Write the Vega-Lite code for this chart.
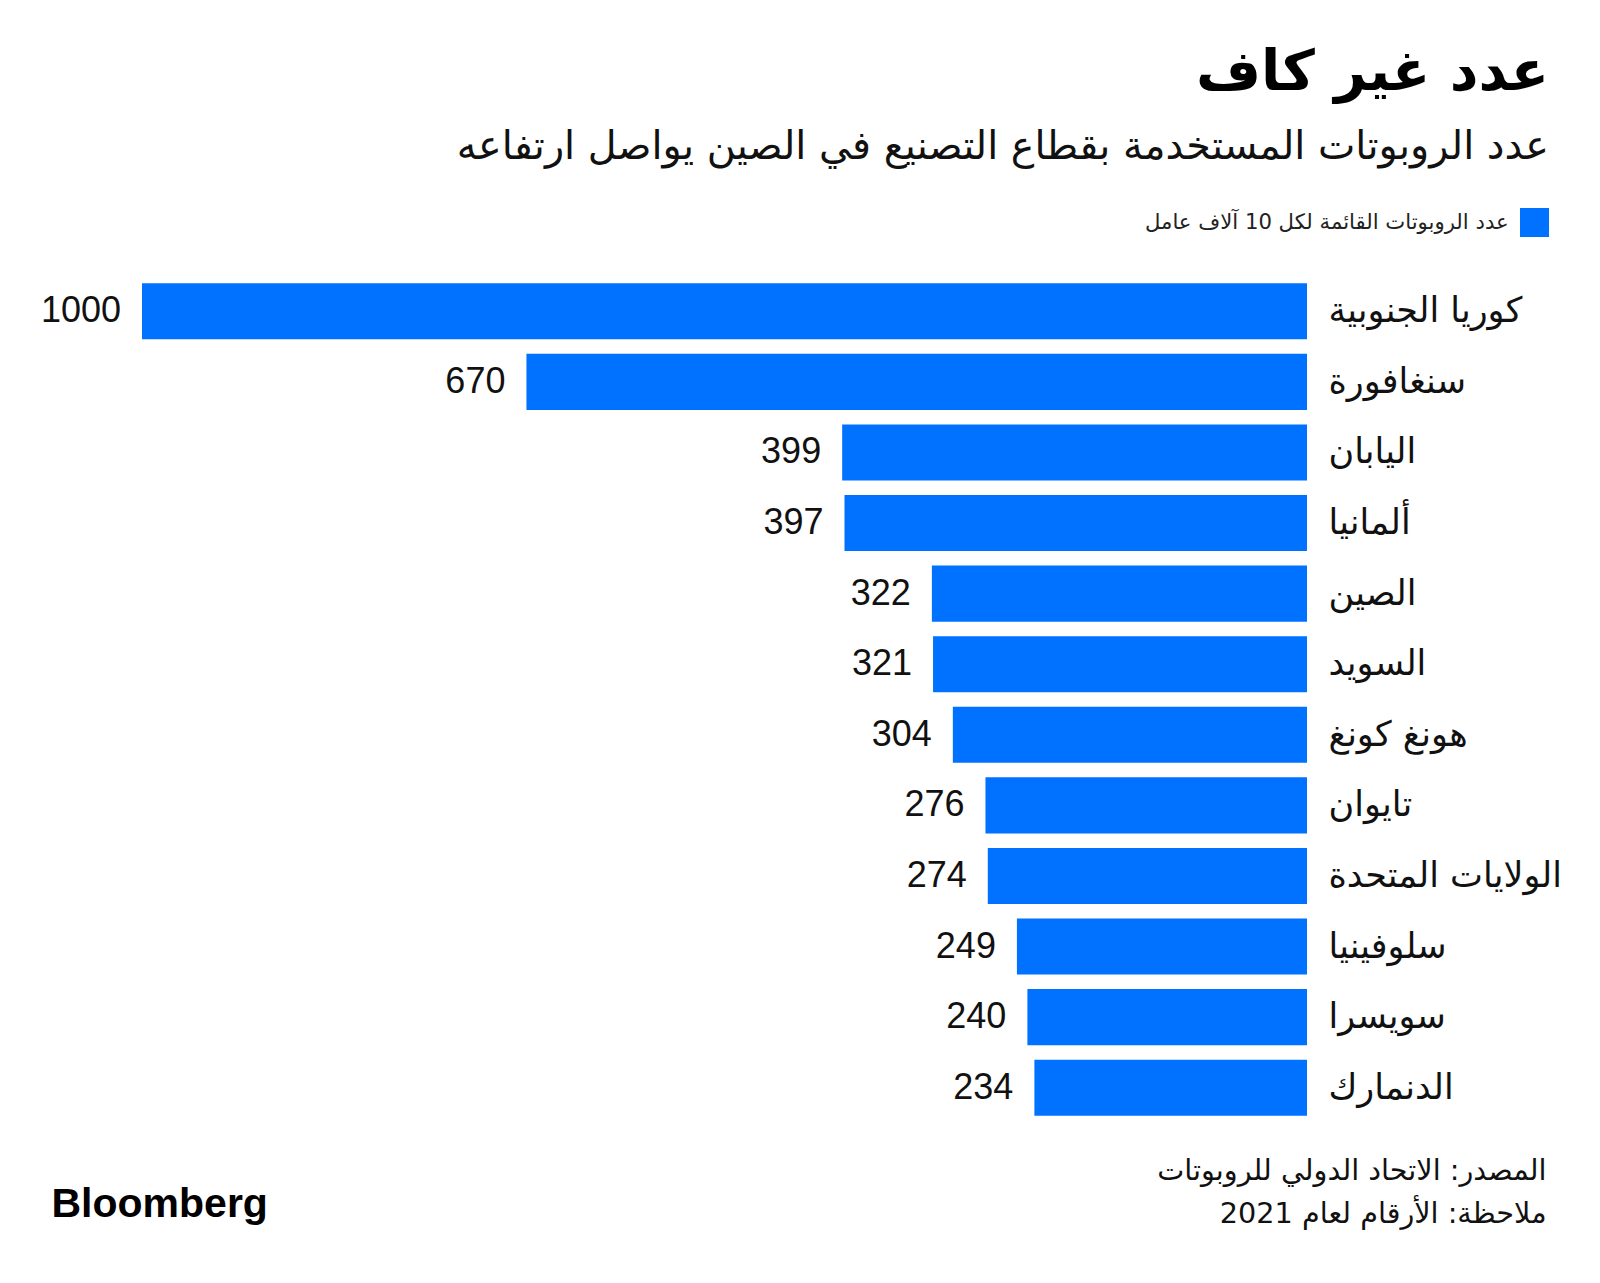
{
  "$schema": "https://vega.github.io/schema/vega-lite/v6.json",
  "width": 1165,
  "height": 847,
  "autosize": {"type": "none"},
  "padding": {"left": 142, "top": 276, "right": 293, "bottom": 160},
  "background": "white",
  "title": {
    "text": "عدد غير كاف",
    "subtitle": "عدد الروبوتات المستخدمة بقطاع التصنيع في الصين يواصل ارتفاعه",
    "anchor": "end",
    "frame": "group",
    "dx": 242,
    "offset": 40,
    "font": "DejaVu Sans",
    "fontSize": 56,
    "fontWeight": "bold",
    "color": "#000000",
    "subtitleFont": "DejaVu Sans",
    "subtitleFontSize": 39.7,
    "subtitleColor": "#111111",
    "subtitlePadding": 26
  },
  "data": {
    "values": [
      {"country": "كوريا الجنوبية", "value": 1000, "series": "عدد الروبوتات القائمة لكل 10 آلاف عامل"},
      {"country": "سنغافورة", "value": 670, "series": "عدد الروبوتات القائمة لكل 10 آلاف عامل"},
      {"country": "اليابان", "value": 399, "series": "عدد الروبوتات القائمة لكل 10 آلاف عامل"},
      {"country": "ألمانيا", "value": 397, "series": "عدد الروبوتات القائمة لكل 10 آلاف عامل"},
      {"country": "الصين", "value": 322, "series": "عدد الروبوتات القائمة لكل 10 آلاف عامل"},
      {"country": "السويد", "value": 321, "series": "عدد الروبوتات القائمة لكل 10 آلاف عامل"},
      {"country": "هونغ كونغ", "value": 304, "series": "عدد الروبوتات القائمة لكل 10 آلاف عامل"},
      {"country": "تايوان", "value": 276, "series": "عدد الروبوتات القائمة لكل 10 آلاف عامل"},
      {"country": "الولايات المتحدة", "value": 274, "series": "عدد الروبوتات القائمة لكل 10 آلاف عامل"},
      {"country": "سلوفينيا", "value": 249, "series": "عدد الروبوتات القائمة لكل 10 آلاف عامل"},
      {"country": "سويسرا", "value": 240, "series": "عدد الروبوتات القائمة لكل 10 آلاف عامل"},
      {"country": "الدنمارك", "value": 234, "series": "عدد الروبوتات القائمة لكل 10 آلاف عامل"}
    ]
  },
  "encoding": {
    "y": {
      "field": "country",
      "type": "nominal",
      "sort": null,
      "scale": {"paddingInner": 0.206, "paddingOuter": 0.103},
      "axis": {
        "orient": "right",
        "domain": false,
        "ticks": false,
        "grid": false,
        "labelAlign": "left",
        "labelPadding": 21,
        "labelLimit": 500,
        "labelFont": "DejaVu Sans",
        "labelFontSize": 35,
        "labelColor": "#111111",
        "title": "Bloomberg",
        "titleAngle": 0,
        "titleAlign": "left",
        "titleBaseline": "alphabetic",
        "titleX": -1256,
        "titleY": 940,
        "titleFont": "Liberation Sans",
        "titleFontSize": 41,
        "titleFontWeight": "bold",
        "titleColor": "#000000"
      }
    },
    "x": {
      "field": "value",
      "type": "quantitative",
      "scale": {"domain": [0, 1000], "reverse": true, "nice": false},
      "axis": {
        "orient": "bottom",
        "labels": false,
        "ticks": false,
        "domain": false,
        "grid": false,
        "title": ["المصدر: الاتحاد الدولي للروبوتات", "ملاحظة: الأرقام لعام 2021"],
        "titleAnchor": "end",
        "titleAlign": "right",
        "titleBaseline": "alphabetic",
        "titleX": 1404,
        "titleY": 56,
        "titleFont": "DejaVu Sans",
        "titleFontSize": 28.7,
        "titleFontWeight": "normal",
        "titleLineHeight": 43,
        "titleLimit": 1000,
        "titleColor": "#111111"
      }
    }
  },
  "layer": [
    {
      "mark": {"type": "bar"},
      "encoding": {
        "color": {
          "field": "series",
          "type": "nominal",
          "scale": {"range": ["#0072ff"]},
          "legend": {
            "orient": "none",
            "legendX": 1003,
            "legendY": -68,
            "title": "عدد الروبوتات القائمة لكل 10 آلاف عامل",
            "titleOrient": "left",
            "titleFont": "DejaVu Sans",
            "titleFontSize": 21.2,
            "titleFontWeight": "normal",
            "titleColor": "#222222",
            "titlePadding": 11,
            "titleBaseline": "middle",
            "titleLimit": 1000,
            "labelExpr": "''",
            "labelOffset": 0,
            "symbolType": "square",
            "symbolSize": 841,
            "symbolStrokeWidth": 0,
            "padding": 0
          }
        }
      }
    },
    {
      "mark": {"type": "text", "align": "right", "baseline": "middle", "dx": -21, "font": "Liberation Sans", "fontSize": 36, "color": "#111111"},
      "encoding": {"text": {"field": "value", "type": "quantitative"}}
    }
  ],
  "config": {"view": {"stroke": null}}
}
